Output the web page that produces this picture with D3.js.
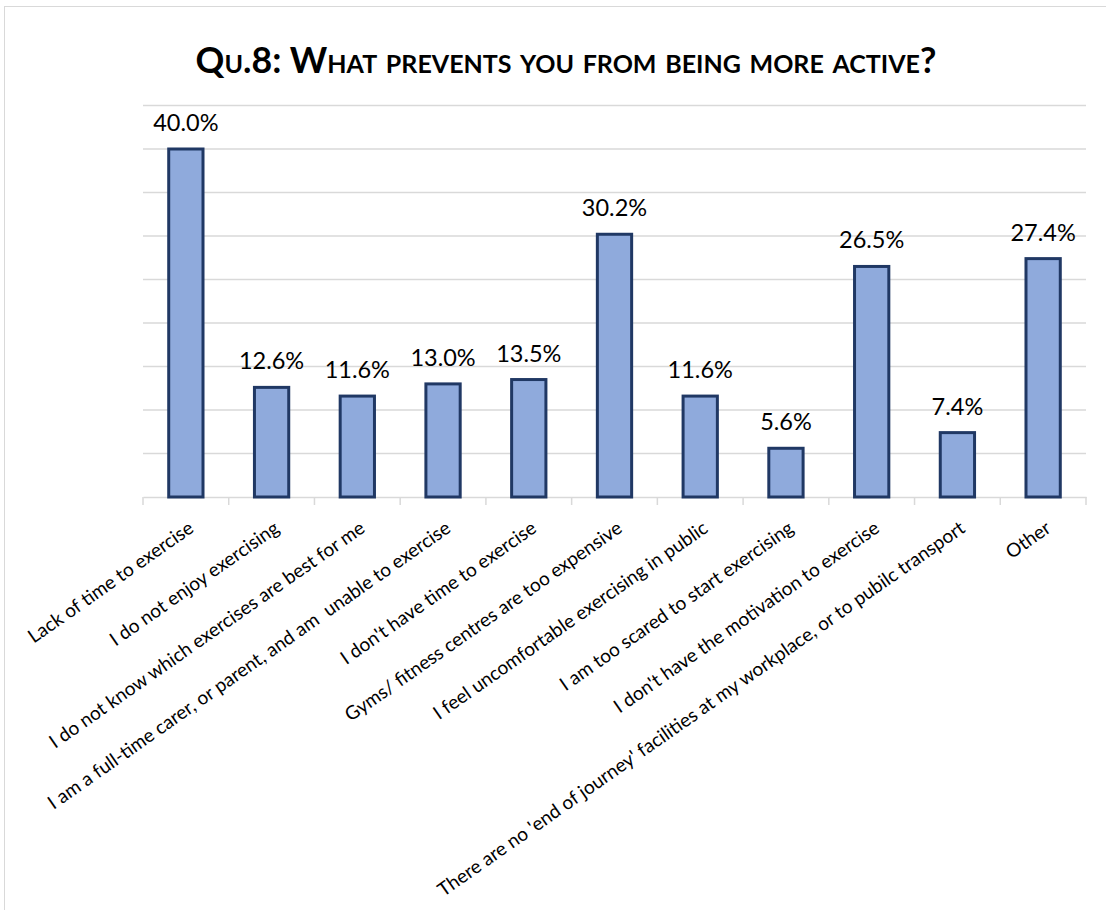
<!DOCTYPE html>
<html>
<head>
<meta charset="utf-8">
<script src="https://cdn.jsdelivr.net/npm/d3@7"></script>
<style>
  html, body { margin: 0; padding: 0; background: #fff; }
  svg { display: block; }
  text { font-family: "Lato", "Open Sans", sans-serif; }
</style>
</head>
<body>
<script>
const categories = [
  "Lack of time to exercise",
  "I do not enjoy exercising",
  "I do not know which exercises are best for me",
  "I am a full-time carer, or parent, and am  unable to exercise",
  "I don't have time to exercise",
  "Gyms/ fitness centres are too expensive",
  "I feel uncomfortable exercising in public",
  "I am too scared to start exercising",
  "I don't have the motivation to exercise",
  "There are no 'end of journey' facilities at my workplace, or to pubilc transport",
  "Other"
];
const values = [40.0, 12.6, 11.6, 13.0, 13.5, 30.2, 11.6, 5.6, 26.5, 7.4, 27.4];
const valueLabels = ["40.0%", "12.6%", "11.6%", "13.0%", "13.5%", "30.2%", "11.6%", "5.6%", "26.5%", "7.4%", "27.4%"];
const gridTicks = [5, 10, 15, 20, 25, 30, 35, 40, 45];
const titleText = "Qu.8: What prevents you from being more active?";

const W = 1106, H = 910;
const svg = d3.select("body").append("svg").attr("width", W).attr("height", H);

// chart frame
svg.append("rect").attr("x", 4.5).attr("y", 6.5).attr("width", 1140).attr("height", 940)
  .attr("fill", "none").attr("stroke", "#d9d9d9").attr("stroke-width", 1);

const x = d3.scaleBand().domain(categories).range([143, 1086]).padding(0);
const y = d3.scaleLinear().domain([0, 45]).range([497, 105.5]);

// gridlines
svg.append("g").selectAll("line").data(gridTicks).join("line")
  .attr("x1", 143).attr("x2", 1086)
  .attr("y1", d => y(d)).attr("y2", d => y(d))
  .attr("stroke", "#d9d9d9").attr("stroke-width", 1.5);

// x axis
const xAxis = d3.axisBottom(x).tickSize(0).tickFormat("");
const gx = svg.append("g").attr("transform", `translate(0,${y(0)})`).call(xAxis);
gx.select(".domain").attr("stroke", "#d9d9d9").attr("stroke-width", 1.5);
const bounds = categories.map(c => x(c)).concat([x(categories[categories.length - 1]) + x.bandwidth()]);
gx.selectAll("line.bnd").data(bounds).join("line").attr("class", "bnd")
  .attr("x1", d => d).attr("x2", d => d).attr("y1", 0).attr("y2", 8)
  .attr("stroke", "#d9d9d9").attr("stroke-width", 1.5);

// bars
const bw = x.bandwidth() * 0.40;
svg.append("g").selectAll("rect").data(values).join("rect")
  .attr("x", (d, i) => x(categories[i]) + x.bandwidth() / 2 - bw / 2)
  .attr("y", d => y(d))
  .attr("width", bw)
  .attr("height", d => y(0) - y(d))
  .attr("fill", "#8FAADC")
  .attr("stroke", "#203864")
  .attr("stroke-width", 3);

// value labels
svg.append("g").selectAll("text").data(values).join("text")
  .attr("x", (d, i) => x(categories[i]) + x.bandwidth() / 2)
  .attr("y", d => y(d) - 18)
  .attr("text-anchor", "middle")
  .attr("font-size", 23.5)
  .attr("fill", "#000")
  .text((d, i) => valueLabels[i]);

// category labels
svg.append("g").selectAll("text").data(categories).join("text")
  .attr("transform", c => `translate(${x(c) + x.bandwidth() / 2 + 9},531) rotate(-35)`)
  .attr("text-anchor", "end")
  .attr("font-size", 19)
  .attr("fill", "#000")
  .style("white-space", "pre")
  .text(c => c);

// title
svg.append("text")
  .attr("x", 566).attr("y", 73)
  .attr("text-anchor", "middle")
  .attr("font-size", 35.7)
  .attr("font-weight", "bold")
  .style("font-variant", "small-caps")
  .attr("fill", "#000")
  .text(titleText);
</script>
</body>
</html>
